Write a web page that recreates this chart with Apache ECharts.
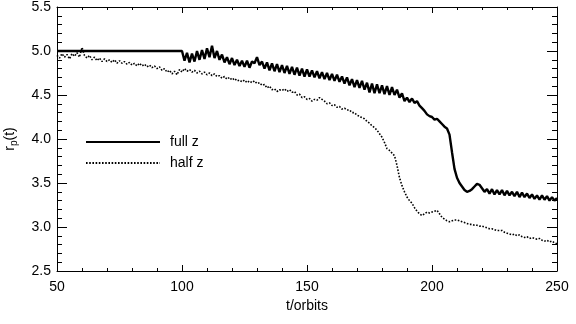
<!DOCTYPE html>
<html>
<head>
<meta charset="utf-8">
<script src="https://cdn.jsdelivr.net/npm/echarts@6/dist/echarts.min.js"></script>
<style>
  html, body { margin: 0; padding: 0; background: #fff; }
  #chart { width: 576px; height: 324px; }
</style>
</head>
<body>
<div id="chart"></div>
<script>
// x axis ticks / range
const xTicks = [50, 100, 150, 200, 250];
const yTicks = [2.5, 3.0, 3.5, 4.0, 4.5, 5.0, 5.5];

// full z: flat at 5.0 until t=100, then sampled every orbit from t=100
const fullFlat = [[50, 5.0]];
const fullStart = 100;
const fullR = [
  5.00, 4.89, 4.98, 4.87, 4.97, 4.88, 5.00, 4.90, 5.01, 4.91,
  5.03, 4.93, 5.06, 4.92, 5.00, 4.90, 4.96, 4.87, 4.93, 4.85,
  4.92, 4.84, 4.90, 4.83, 4.89, 4.82, 4.89, 4.81, 4.88, 4.86,
  4.93, 4.84, 4.88, 4.80, 4.87, 4.78, 4.86, 4.77, 4.85, 4.76,
  4.84, 4.75, 4.83, 4.74, 4.82, 4.73, 4.81, 4.72, 4.80, 4.71,
  4.79, 4.71, 4.78, 4.70, 4.77, 4.69, 4.76, 4.68, 4.75, 4.67,
  4.74, 4.66, 4.73, 4.65, 4.71, 4.63, 4.70, 4.61, 4.68, 4.59,
  4.67, 4.58, 4.66, 4.56, 4.64, 4.53, 4.63, 4.52, 4.62, 4.52,
  4.61, 4.51, 4.60, 4.50, 4.59, 4.50, 4.56, 4.47, 4.52, 4.43,
  4.47, 4.42, 4.46, 4.41, 4.43, 4.38, 4.35, 4.32, 4.28, 4.26,
  4.25, 4.22, 4.23, 4.20, 4.17, 4.14, 4.12, 4.05, 3.85, 3.66,
  3.56, 3.50, 3.46, 3.42, 3.40, 3.41, 3.43, 3.46, 3.49, 3.48,
  3.44, 3.40, 3.43, 3.38, 3.43, 3.37, 3.42, 3.37, 3.42, 3.36,
  3.41, 3.36, 3.40, 3.35, 3.40, 3.34, 3.39, 3.34, 3.38, 3.33,
  3.37, 3.32, 3.36, 3.31, 3.36, 3.31, 3.35, 3.30, 3.34, 3.30,
  3.33
];

// half z: sampled every orbit from t=50
const halfStart = 50;
const halfR = [
  4.95, 4.92, 4.97, 4.93, 4.96, 4.91, 4.97, 4.94, 4.98, 4.93,
  5.04, 4.95, 4.92, 4.95, 4.90, 4.93, 4.89, 4.92, 4.88, 4.91,
  4.88, 4.90, 4.87, 4.90, 4.86, 4.89, 4.86, 4.88, 4.85, 4.87,
  4.84, 4.86, 4.83, 4.86, 4.83, 4.85, 4.82, 4.84, 4.81, 4.83,
  4.80, 4.82, 4.78, 4.80, 4.76, 4.78, 4.74, 4.77, 4.73, 4.79,
  4.76, 4.80, 4.77, 4.79, 4.76, 4.78, 4.75, 4.77, 4.74, 4.76,
  4.73, 4.75, 4.72, 4.74, 4.71, 4.72, 4.69, 4.71, 4.68, 4.70,
  4.67, 4.69, 4.66, 4.67, 4.65, 4.67, 4.64, 4.66, 4.64, 4.66,
  4.63, 4.64, 4.61, 4.62, 4.58, 4.60, 4.56, 4.57, 4.54, 4.56,
  4.55, 4.57, 4.54, 4.56, 4.53, 4.54, 4.50, 4.51, 4.47, 4.48,
  4.45, 4.46, 4.43, 4.45, 4.44, 4.47, 4.45, 4.43, 4.40, 4.41,
  4.38, 4.39, 4.36, 4.37, 4.34, 4.35, 4.33, 4.33, 4.30, 4.30,
  4.27, 4.26, 4.24, 4.23, 4.20, 4.18, 4.15, 4.13, 4.10, 4.06,
  4.02, 3.96, 3.89, 3.87, 3.84, 3.81, 3.70, 3.56, 3.47, 3.40,
  3.34, 3.30, 3.27, 3.22, 3.18, 3.15, 3.13, 3.15, 3.17, 3.16,
  3.17, 3.18, 3.19, 3.15, 3.11, 3.09, 3.07, 3.06, 3.07, 3.08,
  3.08, 3.07, 3.06, 3.05, 3.04, 3.03, 3.03, 3.02, 3.02, 3.01,
  3.01, 3.00, 2.99, 2.98, 2.98, 2.97, 2.96, 2.96, 2.96, 2.94,
  2.93, 2.92, 2.91, 2.92, 2.90, 2.91, 2.89, 2.88, 2.89, 2.87,
  2.88, 2.87, 2.86, 2.87, 2.85, 2.84, 2.85, 2.83, 2.84, 2.82,
  2.81
];

const seriesNames = ['full z', 'half z'];

const fullData = fullFlat.concat(fullR.map((v, i) => [fullStart + i, v]));
const halfData = halfR.map((v, i) => [halfStart + i, v]);

const font = 'Liberation Sans';
const black = '#000';

function xAxisBase(pos, showLabels) {
  return {
    type: 'value',
    position: pos,
    min: xTicks[0],
    max: xTicks[xTicks.length - 1],
    interval: 50,
    axisLine: { show: true, onZero: false, lineStyle: { color: black, width: 1 } },
    axisTick: { show: true, inside: true, length: 6, lineStyle: { color: black } },
    minorTick: { show: true, splitNumber: 5, length: 3, lineStyle: { color: black } },
    splitLine: { show: false },
    axisLabel: {
      show: showLabels,
      color: black,
      fontFamily: font,
      fontSize: 14,
      margin: 9
    }
  };
}

function yAxisBase(pos, showLabels) {
  return {
    type: 'value',
    position: pos,
    min: yTicks[0],
    max: yTicks[yTicks.length - 1],
    interval: 0.5,
    axisLine: { show: true, onZero: false, lineStyle: { color: black, width: 1 } },
    axisTick: { show: true, inside: true, length: 10, lineStyle: { color: black } },
    minorTick: { show: true, splitNumber: 5, length: 5, lineStyle: { color: black } },
    splitLine: { show: false },
    axisLabel: {
      show: showLabels,
      color: black,
      fontFamily: font,
      fontSize: 14,
      margin: 6,
      formatter: v => v.toFixed(1)
    }
  };
}

const chart = echarts.init(document.getElementById('chart'));

const xBottom = xAxisBase('bottom', true);
xBottom.name = 't/orbits';
xBottom.nameLocation = 'middle';
xBottom.nameGap = 28;
xBottom.nameTextStyle = { color: black, fontFamily: font, fontSize: 14 };

const yLeft = yAxisBase('left', true);
yLeft.name = '{a|r}{s|p}{a|(t)}';
yLeft.nameLocation = 'middle';
yLeft.nameGap = 38;
yLeft.nameTextStyle = {
  color: black,
  fontFamily: font,
  rich: {
    a: { fontSize: 14, fontFamily: font, color: black },
    s: { fontSize: 10, fontFamily: font, color: black, verticalAlign: 'bottom', padding: [8, 0, 0, 0] }
  }
};

const option = {
  animation: false,
  backgroundColor: '#fff',
  grid: {
    left: 57,
    right: 19,
    top: 7,
    bottom: 53,
    outerBoundsMode: 'none'
  },
  legend: {
    orient: 'vertical',
    left: 80,
    top: 130,
    itemWidth: 74,
    itemHeight: 12,
    itemGap: 7,
    data: seriesNames,
    itemStyle: { opacity: 0 },
    textStyle: { color: black, fontFamily: font, fontSize: 14, padding: [0, 0, 0, 5] }
  },
  xAxis: [xBottom, xAxisBase('top', false)],
  yAxis: [yLeft, yAxisBase('right', false)],
  series: [
    {
      name: seriesNames[0],
      type: 'line',
      xAxisIndex: 0,
      yAxisIndex: 0,
      showSymbol: false,
      symbol: 'none',
      data: fullData,
      lineStyle: { color: black, width: 2.4 },
      itemStyle: { color: black }
    },
    {
      name: seriesNames[1],
      type: 'line',
      xAxisIndex: 0,
      yAxisIndex: 0,
      showSymbol: false,
      symbol: 'none',
      data: halfData,
      lineStyle: { color: black, width: 1.6, type: [1.6, 1.6] },
      itemStyle: { color: black }
    }
  ]
};

chart.setOption(option);
</script>
</body>
</html>
